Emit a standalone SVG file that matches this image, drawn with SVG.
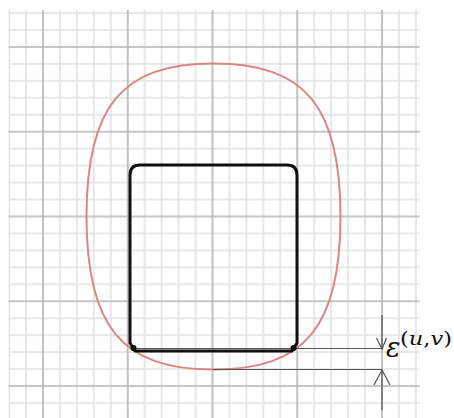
<svg xmlns="http://www.w3.org/2000/svg" width="454" height="418" viewBox="0 0 454 418">
  <defs>
    <pattern id="grid" patternUnits="userSpaceOnUse" x="35" y="39" width="84.75" height="84.75">
      <g stroke="#e0e0e0" stroke-width="1.5">
        <line x1="24.95" y1="0" x2="24.95" y2="84.75"/>
        <line x1="41.9" y1="0" x2="41.9" y2="84.75"/>
        <line x1="58.85" y1="0" x2="58.85" y2="84.75"/>
        <line x1="75.8" y1="0" x2="75.8" y2="84.75"/>
        <line x1="0" y1="24.95" x2="84.75" y2="24.95"/>
        <line x1="0" y1="41.9" x2="84.75" y2="41.9"/>
        <line x1="0" y1="58.85" x2="84.75" y2="58.85"/>
        <line x1="0" y1="75.8" x2="84.75" y2="75.8"/>
      </g>
      <g stroke="#b3b3b3" stroke-width="1.6">
        <line x1="8" y1="0" x2="8" y2="84.75"/>
        <line x1="0" y1="8" x2="84.75" y2="8"/>
      </g>
    </pattern>
    <style>
      .dim { stroke: #555; stroke-width: 1.2; fill: none; }
      .shape { stroke: #111; stroke-width: 3; fill: none; stroke-linejoin: round; }
      .curve { stroke: #dc8585; stroke-width: 2; fill: none; }
      .lbl { font-family: "DejaVu Serif", "Liberation Serif", serif; fill: #111; }
    </style>
  </defs>
  <rect x="0" y="0" width="454" height="418" fill="#ffffff"/>
  <rect id="grid-bg" x="8.5" y="10" width="411" height="408" fill="url(#grid)"/>

  <g id="offset-curve">
    <path class="curve" d="M340.5,216.5 C340.5,326.7 305,369.5 213.5,369.5 C122,369.5 86.5,326.7 86.5,216.5 C86.5,106.3 122,63.5 213.5,63.5 C305,63.5 340.5,106.3 340.5,216.5 Z"/>
  </g>

  <g id="connectors">
    <line class="dim" x1="136" y1="348.5" x2="382" y2="348.5"/>
    <line class="dim" x1="213" y1="369.5" x2="382" y2="369.5"/>
    <line class="dim" x1="382" y1="315" x2="382" y2="349"/>
    <polyline class="dim" points="376.5,338 382,349 386.5,338"/>
    <line class="dim" x1="382" y1="370" x2="382" y2="410"/>
    <polyline class="dim" points="374,385 382,370 390,385"/>
  </g>

  <g id="square">
    <path class="shape" d="M130,175 L130,343 L135,351 L292,351 L297,343 L297,175 Q297,165 287,165 L140,165 Q130,165 130,175 Z"/>
    <circle cx="133.5" cy="348" r="3" fill="#111"/>
    <circle cx="293.5" cy="348" r="3" fill="#111"/>
  </g>

  <g id="label">
    <text class="lbl" x="386" y="357" font-size="27" font-style="italic">ε</text>
    <text class="lbl" x="400" y="345" font-size="19" textLength="52" lengthAdjust="spacingAndGlyphs">(<tspan font-style="italic">u</tspan>,<tspan font-style="italic">v</tspan>)</text>
  </g>
</svg>
